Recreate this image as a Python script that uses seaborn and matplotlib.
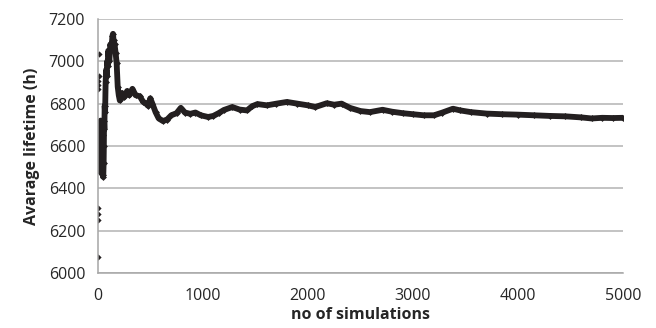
import matplotlib
matplotlib.use("Agg")
import matplotlib.pyplot as plt
import seaborn as sns
import pandas as pd

# early scattered running-average points (first few simulations)
early_sims = [1, 2, 3, 4, 5, 6, 7, 8, 9]
early_avg = [6075, 6250, 6278, 6306, 6870, 6890, 6908, 6932, 7035]

# main running-average trace
sims = [10, 12, 14, 16, 18, 20, 22, 25, 28, 30, 33, 36, 40, 43, 46, 50, 53, 56,
        58, 60, 63, 66, 70, 75, 80, 85, 90, 95, 100, 110, 120, 130, 140, 145, 150,
        160, 170, 180, 190, 200, 210, 230, 250, 280, 300, 330, 360, 400, 430, 460,
        480, 500, 520, 550, 580, 620, 660, 700, 750, 790, 830, 880, 930, 980, 1050,
        1100, 1150, 1200, 1280, 1350, 1420, 1470, 1520, 1610, 1700, 1800, 1900, 2000,
        2070, 2180, 2250, 2320, 2400, 2500, 2590, 2710, 2800, 2900, 3000, 3100, 3200,
        3280, 3380, 3450, 3550, 3700, 3850, 4000, 4150, 4300, 4450, 4600, 4700, 4800,
        4900, 5000]
avg = [6700, 6560, 6690, 6480, 6650, 6520, 6700, 6600, 6720, 6540, 6680, 6470, 6620,
       6490, 6650, 6455, 6465, 6520,
       6600, 6720, 6680, 6790, 6760, 6900, 6960, 6930, 7000, 6980, 7050, 7000, 7080,
       7060, 7120, 7130, 7100, 7080, 7040, 6990, 6880, 6840, 6815, 6850, 6830, 6860,
       6840, 6870, 6840, 6835, 6810, 6800, 6790, 6825, 6800, 6760, 6730, 6718, 6725,
       6745, 6755, 6780, 6758, 6752, 6758, 6745, 6737, 6742, 6755, 6770, 6784, 6772,
       6768, 6788, 6798, 6792, 6800, 6808, 6800, 6792, 6784, 6802, 6795, 6800, 6780,
       6765, 6760, 6771, 6762, 6755, 6750, 6745, 6745, 6758, 6776, 6768, 6760, 6753,
       6750, 6748, 6745, 6742, 6740, 6735, 6730, 6733, 6732, 6733]

df_main = pd.DataFrame({"sim": sims, "avg": avg})
df_early = pd.DataFrame({"sim": early_sims, "avg": early_avg})

sns.set_style("white")
plt.rcParams["font.family"] = ["Open Sans", "DejaVu Sans"]

fig = plt.figure(figsize=(6.56, 3.28), dpi=100)
ax = fig.add_axes([0.149, 0.168, 0.801, 0.774])

col = "#231f20"
sns.lineplot(data=df_main, x="sim", y="avg", ax=ax, color=col, linewidth=4.2,
             marker="D", markersize=3.5, markeredgewidth=0, sort=False)
sns.scatterplot(data=df_early, x="sim", y="avg", ax=ax, color=col, marker="D",
                s=10, linewidth=0)

ax.set_xlim(0, 5000)
ax.set_ylim(6000, 7200)
ax.set_xticks([0, 1000, 2000, 3000, 4000, 5000])
ax.set_yticks([6000, 6200, 6400, 6600, 6800, 7000, 7200])
ax.yaxis.grid(True, color="#b3b3b3", linewidth=1.1)
ax.xaxis.grid(False)
ax.set_axisbelow(True)
for s in ["top", "right"]:
    ax.spines[s].set_visible(False)
for s in ["left", "bottom"]:
    ax.spines[s].set_color("#a6a6a6")
    ax.spines[s].set_linewidth(1.1)
ax.tick_params(axis="both", length=0, labelsize=11.5, colors="#262626")
ax.tick_params(axis="x", pad=11)
ax.tick_params(axis="y", pad=9)
ax.set_xlabel("no of simulations", fontsize=11.5, fontweight="bold", color="#262626", labelpad=2)
ax.set_ylabel("Avarage lifetime (h)", fontsize=11.5, fontweight="bold", color="#262626", labelpad=6)

fig.savefig("out.png", dpi=100)
